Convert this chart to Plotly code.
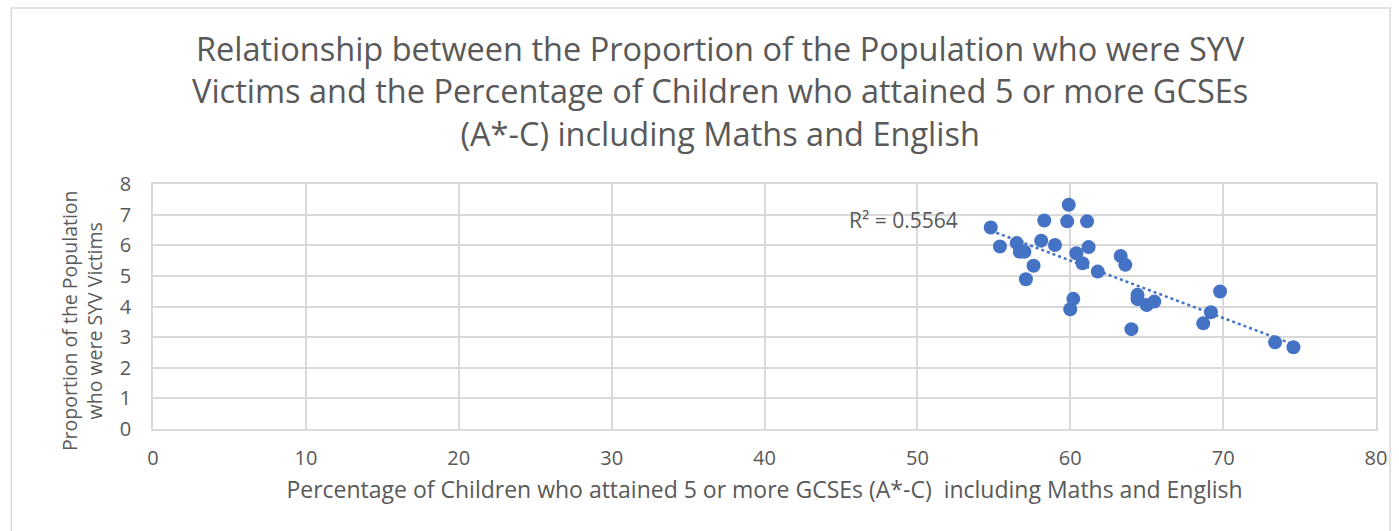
import numpy as np
import plotly.graph_objects as go

# Percentage of children attaining 5+ GCSEs (A*-C) incl. Maths and English
gcse_pct = [54.8, 55.4, 56.5, 56.7, 57.0, 57.6, 57.1, 58.3, 58.1, 59.0, 59.9, 59.8,
            61.1, 60.4, 61.2, 60.8, 61.8, 60.2, 60.0, 63.3, 63.6, 64.4, 64.4, 65.0,
            65.5, 64.0, 69.8, 69.2, 68.7, 73.4, 74.6]
# Proportion of the population who were SYV victims
syv_prop = [6.58, 5.96, 6.07, 5.79, 5.79, 5.33, 4.89, 6.81, 6.15, 6.01, 7.32, 6.78,
            6.78, 5.74, 5.94, 5.41, 5.14, 4.25, 3.91, 5.65, 5.36, 4.38, 4.24, 4.05,
            4.16, 3.26, 4.49, 3.81, 3.45, 2.83, 2.67]
r2_label = "R² = 0.5564"

x = np.array(gcse_pct)
y = np.array(syv_prop)
slope, intercept = np.polyfit(x, y, 1)
trend_x = np.array([x.min(), x.max()])
trend_y = slope * trend_x + intercept

blue = "#4472C4"
grey_text = "#595959"
font_family = "Open Sans, sans-serif"

fig = go.Figure()
fig.add_trace(go.Scatter(
    x=trend_x, y=trend_y, mode="lines",
    line=dict(color=blue, width=2.5, dash="dot"),
    hoverinfo="skip", showlegend=False,
))
fig.add_trace(go.Scatter(
    x=gcse_pct, y=syv_prop, mode="markers",
    marker=dict(color=blue, size=14),
    showlegend=False,
))

fig.add_annotation(
    x=49.1, y=6.83, text=r2_label, showarrow=False,
    font=dict(size=21, color=grey_text, family=font_family),
)

# Layout geometry in pixels
W, H = 1399, 531
ml, mr, mt, mb = 153, 21, 184, 102
pw, ph = W - ml - mr, H - mt - mb
def px_to_paper(px, py):
    return (px - ml) / pw, (H - mb - py) / ph

# Outer chart frame
fx0, fy0 = px_to_paper(11, 8)
fx1, fy1 = px_to_paper(1392, 540)
fig.add_shape(type="rect", xref="paper", yref="paper",
              x0=fx0, y0=fy1, x1=fx1, y1=fy0,
              line=dict(color="#d9d9d9", width=1.5), layer="below")

# Chart title
tx, ty = px_to_paper(721, 91)
fig.add_annotation(
    xref="paper", yref="paper", x=tx, y=ty, xanchor="center", yanchor="middle",
    showarrow=False, align="center",
    text="Relationship between the Proportion of the Population who were SYV<br>"
         "Victims and the Percentage of Children who attained 5 or more GCSEs<br>"
         "(A*-C) including Maths and English",
    font=dict(size=32.5, color=grey_text, family=font_family),
)

# Y-axis title, placed as a rotated annotation
yx, yy = px_to_paper(82, 321)
fig.add_annotation(
    xref="paper", yref="paper", x=yx, y=yy, xanchor="center", yanchor="middle",
    showarrow=False, align="center", textangle=-90,
    text="Proportion of the Population<br>who were SYV Victims",
    font=dict(size=19.5, color=grey_text, family=font_family),
)

fig.update_layout(
    width=W, height=H,
    margin=dict(l=ml, r=mr, t=mt, b=mb),
    paper_bgcolor="white", plot_bgcolor="white",
    font=dict(family=font_family, color=grey_text),
    xaxis=dict(
        range=[0, 80], dtick=10, showgrid=True, gridcolor="#d9d9d9", gridwidth=1.5,
        showline=True, linecolor="#d9d9d9", linewidth=1.5, mirror=True,
        zeroline=False, ticks="", tickfont=dict(size=20, color=grey_text),
        ticklabelstandoff=10,
        title=dict(text="Percentage of Children who attained 5 or more GCSEs (A*-C)  including Maths and English",
                   font=dict(size=23, color=grey_text), standoff=12),
    ),
    yaxis=dict(
        range=[0, 8], dtick=1, showgrid=True, gridcolor="#d9d9d9", gridwidth=1.5,
        showline=True, linecolor="#d9d9d9", linewidth=1.5, mirror=True,
        zeroline=False, ticks="", tickfont=dict(size=20, color=grey_text),
        ticklabelstandoff=16,
    ),
)

fig.write_html("out.html")
